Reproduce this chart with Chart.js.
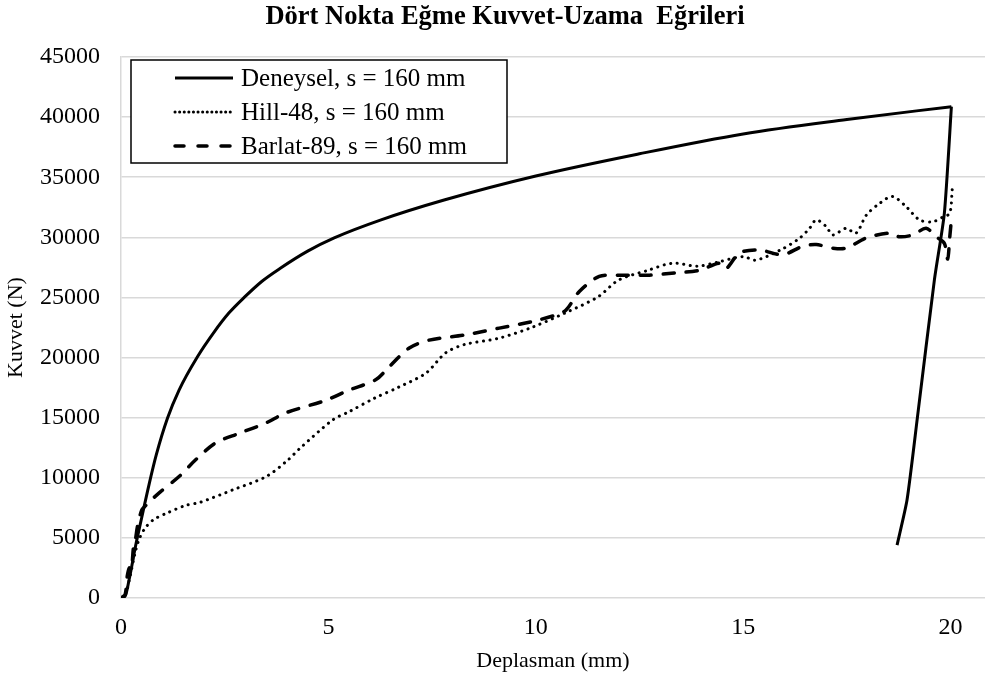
<!DOCTYPE html>
<html>
<head>
<meta charset="utf-8">
<script src="https://cdn.jsdelivr.net/npm/chart.js@4.4.0/dist/chart.umd.min.js"></script>
<style>
    html, body { margin: 0; padding: 0; background: #fff; }
    #wrap { width: 985px; height: 682px; }
</style>
</head>
<body>
<div id="wrap"><canvas id="kuvvetChart"></canvas></div>
<script>
// Eğri verileri
// Deneysel: yükleme kısmı ve boşaltma kısmı
const deneyselX = [0, 0.1, 0.2, 0.35, 0.5, 0.68, 0.85, 1.12, 1.4, 1.84, 2.24, 2.6, 2.97, 3.4, 3.85, 4.5, 5.14, 6.27, 7.79, 10, 12.5, 15, 17.5, 20.02];
const deneyselY = [0, 150, 1600, 4300, 6700, 9500, 11900, 14950, 17300, 20050, 22100, 23700, 25000, 26350, 27450, 28850, 29950, 31450, 33100, 35100, 36950, 38600, 39800, 40870];
const bosaltmaX = [20.02, 19.85, 19.61, 19.2, 18.95, 18.71];
const bosaltmaY = [40870, 32000, 26460, 15000, 8150, 4400];

const hillX = [0, 0.1, 0.2, 0.35, 0.45, 0.6, 0.8, 1.1, 1.56, 1.9, 2.7, 3.5, 4.0, 4.3, 5.1, 5.5, 6.1, 6.7, 7.35, 7.83, 8.3, 9.1, 9.9, 10.7, 11.5, 12.0, 12.7, 13.3, 13.9, 14.4, 15.0, 15.3, 15.9, 16.35, 16.6, 16.76, 17.0, 17.16, 17.48, 17.72, 17.97, 18.3, 18.6, 18.93, 19.25, 19.57, 19.82, 19.98, 20.04];
const hillY = [0, 200, 1500, 3900, 5000, 5900, 6550, 7050, 7700, 7950, 9000, 10100, 11400, 12400, 14800, 15500, 16600, 17550, 18700, 20400, 21100, 21600, 22500, 23700, 25050, 26450, 27250, 27850, 27600, 27950, 28400, 28100, 28950, 29900, 30750, 31450, 30900, 30200, 30750, 30350, 31850, 32850, 33400, 32550, 31450, 31300, 31700, 32000, 34000];

const barlatX = [0, 0.1, 0.15, 0.2, 0.25, 0.3, 0.35, 0.4, 0.5, 0.6, 0.92, 1.4, 1.8, 2.28, 2.85, 3.49, 3.97, 4.94, 5.5, 6.14, 6.47, 6.95, 7.43, 8.32, 9.12, 9.92, 10.49, 10.73, 11.05, 11.53, 12.0, 12.74, 13.38, 13.94, 14.43, 14.59, 14.91, 15.39, 15.95, 16.43, 16.76, 17.16, 17.48, 17.97, 18.53, 18.77, 19.09, 19.41, 19.65, 19.85, 19.93, 19.98, 20.02];
const barlatY = [0, 300, 1800, 2500, 2300, 4200, 4900, 6000, 7300, 7700, 8750, 10100, 11500, 12900, 13700, 14550, 15400, 16450, 17300, 18150, 19250, 20800, 21450, 21900, 22450, 23000, 23550, 23950, 25500, 26750, 26850, 26850, 27050, 27250, 27850, 27400, 28700, 28950, 28550, 29250, 29400, 29100, 29100, 29950, 30350, 30050, 30200, 30750, 30050, 29500, 28200, 30000, 31500];

const xTicks = [0, 5, 10, 15, 20];
const yTicks = [0, 5000, 10000, 15000, 20000, 25000, 30000, 35000, 40000, 45000];

const seriesLabels = ['Deneysel, s = 160 mm', 'Hill-48, s = 160 mm', 'Barlat-89, s = 160 mm'];
const chartTitle = 'Dört Nokta Eğme Kuvvet-Uzama  Eğrileri';
const xTitle = 'Deplasman (mm)';
const yTitle = 'Kuvvet (N)';

const serif = "'Liberation Serif', 'Times New Roman', serif";
const gridColor = '#d9d9d9';

function toPoints(xs, ys) {
    return xs.map((x, i) => ({ x: x, y: ys[i] }));
}

// Başlık
const titlePlugin = {
    id: 'titlePlugin',
    afterDraw(chart) {
        const ctx = chart.ctx;
        ctx.save();
        ctx.fillStyle = '#000';
        ctx.font = 'bold 26.5px ' + serif;
        ctx.textAlign = 'center';
        ctx.textBaseline = 'middle';
        ctx.fillText(chartTitle, 505, 17);
        ctx.restore();
    }
};

// Grafik içindeki açıklama kutusu
const boxLegend = {
    id: 'boxLegend',
    afterDatasetsDraw(chart) {
        const ctx = chart.ctx;
        const left = chart.chartArea.left + 10;
        const top = chart.chartArea.top + 3;
        const w = 376, h = 103;
        ctx.save();
        ctx.fillStyle = '#fff';
        ctx.fillRect(left, top, w, h);
        ctx.strokeStyle = '#000';
        ctx.lineWidth = 1.5;
        ctx.strokeRect(left, top, w, h);
        ctx.font = '25px ' + serif;
        ctx.textBaseline = 'middle';
        ctx.textAlign = 'left';
        chart.data.datasets.filter(ds => !ds.noLegend).forEach((ds, i) => {
            const y = top + 18 + i * 34;
            ctx.beginPath();
            ctx.strokeStyle = ds.borderColor;
            ctx.lineWidth = ds.borderWidth;
            ctx.lineCap = ds.borderCapStyle || 'butt';
            ctx.setLineDash(ds.legendDash || []);
            ctx.moveTo(left + 44, y);
            ctx.lineTo(left + 102, y);
            ctx.stroke();
            ctx.setLineDash([]);
            ctx.fillStyle = '#000';
            ctx.fillText(ds.label, left + 110, y + 1);
        });
        ctx.restore();
    }
};

const ctx = document.getElementById('kuvvetChart');

new Chart(ctx, {
    type: 'scatter',
    data: {
        datasets: [{
            label: seriesLabels[0],
            data: toPoints(deneyselX, deneyselY),
            showLine: true,
            borderColor: '#000',
            borderWidth: 3,
            cubicInterpolationMode: 'monotone',
            pointRadius: 0
        }, {
            label: seriesLabels[0],
            noLegend: true,
            data: toPoints(bosaltmaX, bosaltmaY),
            showLine: true,
            borderColor: '#000',
            borderWidth: 3,
            tension: 0.2,
            pointRadius: 0
        }, {
            label: seriesLabels[1],
            data: toPoints(hillX, hillY),
            showLine: true,
            borderColor: '#000',
            borderWidth: 3,
            borderDash: [0.1, 6.5],
            borderCapStyle: 'round',
            legendDash: [0.1, 4.5],
            tension: 0.3,
            pointRadius: 0
        }, {
            label: seriesLabels[2],
            data: toPoints(barlatX, barlatY),
            showLine: true,
            borderColor: '#000',
            borderWidth: 3.5,
            borderDash: [11, 12],
            borderCapStyle: 'round',
            legendDash: [9, 14],
            tension: 0.3,
            pointRadius: 0
        }]
    },
    options: {
        responsive: true,
        maintainAspectRatio: false,
        animation: false,
        layout: {
            padding: { top: 57, right: 0, left: 0, bottom: 0 }
        },
        plugins: {
            legend: { display: false },
            tooltip: { enabled: false }
        },
        scales: {
            x: {
                type: 'linear',
                min: 0,
                max: 20.83,
                afterBuildTicks: (scale) => {
                    scale.ticks = xTicks.map(v => ({ value: v }));
                },
                afterFit: (scale) => { scale.height = 84; },
                ticks: {
                    color: '#000',
                    font: { family: serif, size: 24 },
                    padding: 15,
                    maxRotation: 0
                },
                grid: { display: false, drawTicks: false },
                border: { display: false },
                title: {
                    display: true,
                    text: xTitle,
                    color: '#000',
                    font: { family: serif, size: 22 },
                    padding: { top: 0, bottom: 8 }
                }
            },
            y: {
                type: 'linear',
                min: 0,
                max: 45000,
                afterBuildTicks: (scale) => {
                    scale.ticks = yTicks.map(v => ({ value: v }));
                },
                afterFit: (scale) => { scale.width = 121; },
                ticks: {
                    color: '#000',
                    font: { family: serif, size: 24 },
                    padding: 21,
                    callback: (v) => String(v)
                },
                grid: { color: gridColor, lineWidth: 1.5, drawTicks: false },
                border: { display: true, color: gridColor, width: 1.5 },
                title: {
                    display: true,
                    text: yTitle,
                    color: '#000',
                    font: { family: serif, size: 22 },
                    padding: { top: 3, bottom: 0 }
                }
            }
        }
    },
    plugins: [boxLegend, titlePlugin]
});
</script>
</body>
</html>
